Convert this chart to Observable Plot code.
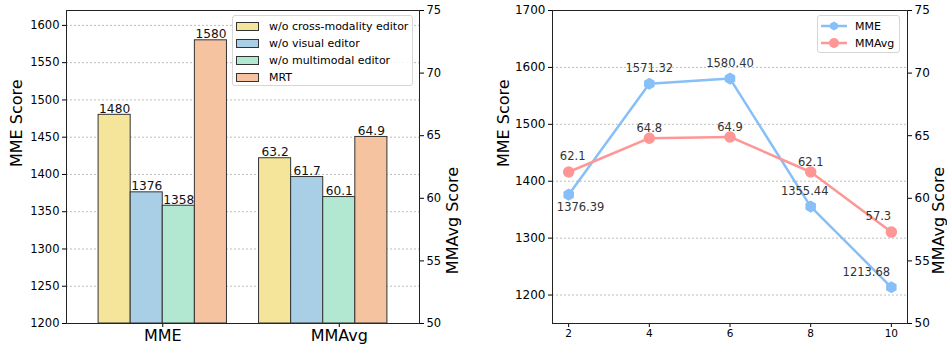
<!DOCTYPE html>
<html><head><meta charset="utf-8">
<script src="https://cdn.jsdelivr.net/npm/d3@7"></script>
<script src="https://cdn.jsdelivr.net/npm/@observablehq/plot@0.6"></script>
<style>
body{margin:0;background:#fff;font-family:"DejaVu Sans",sans-serif;}
#wrap{position:relative;width:947px;height:347px;overflow:hidden;background:#fff;}
.layer{position:absolute;top:0;}
.legend{position:absolute;background:rgba(255,255,255,0.85);border:1px solid #d6d6d6;border-radius:3px;font-size:11px;color:#000;box-sizing:border-box;}
.legend .row{position:absolute;left:0;display:flex;align-items:center;height:17px;white-space:nowrap;}
</style></head><body><div id="wrap"></div>
<script>
// ---- data ----
const series = ["w/o cross-modality editor", "w/o visual editor", "w/o multimodal editor", "MRT"];
const groups = ["MME", "MMAvg"];
const mmeBars = [1480, 1376, 1358, 1580];
const mmavgBars = [63.2, 61.7, 60.1, 64.9];
const steps = [2, 4, 6, 8, 10];
const mmeLine = [1376.39, 1571.32, 1580.40, 1355.44, 1213.68];
const mmavgLine = [62.1, 64.8, 64.9, 62.1, 57.3];
const mmeTicksLeft = [1200, 1250, 1300, 1350, 1400, 1450, 1500, 1550, 1600];
const mmeTicksRight = [1200, 1300, 1400, 1500, 1600, 1700];
const mmavgTicks = [50, 55, 60, 65, 70, 75];
const lineNames = ["MME", "MMAvg"];

// ---- styles ----
const barColors = ["#F5E59B", "#A8CFE6", "#B2E8D1", "#F5C3A0"];
const blue = "#87BFF8", pink = "#FF9696";
const groupTickPos = groups.map((g, i) => i * 1.1);
const mmeLabelOff = [[12, 13], [0, -15], [0, -15], [-6, -15], [-25, -15]];
const mmavgLabelOff = [[4, -16], [0, -10], [0, -10], [0, -10], [-13, -16]];
const font = "DejaVu Sans";
const svgStyle = {fontFamily: font, fontSize: "12px", background: "transparent", color: "#000", overflow: "visible"};
const grid = {stroke: "#b5b5b5", strokeDasharray: "2,2", strokeWidth: 0.9};
const plain = d => String(d);

const wrap = document.getElementById("wrap");
function place(node, left) {
  node.classList.add("layer");
  node.style.left = left + "px";
  wrap.appendChild(node);
}

// ---- left panel ----
const Ldim = {width: 470, height: 347, marginLeft: 66, marginRight: 51, marginTop: 10, marginBottom: 24};
const xL = {type: "linear", domain: [-0.6, 1.6]};
const rows = (vals, g) => vals.map((v, i) => ({i, v, x1: g - 0.4 + i * 0.2, x2: g - 0.2 + i * 0.2}));
const rowsA = rows(mmeBars, 0), rowsB = rows(mmavgBars, 1);

const plotA = Plot.plot({
  ...Ldim, style: svgStyle,
  x: xL, y: {domain: [1200, 1620]}, color: {type: "identity"},
  marks: [
    Plot.ruleY(mmeTicksLeft.slice(1), grid),
    Plot.rectY(rowsA, {x1: "x1", x2: "x2", y1: 1200, y2: "v", fill: d => barColors[d.i], stroke: "#333", strokeWidth: 1, inset: 0}),
    Plot.text(rowsA, {x: d => (d.x1 + d.x2) / 2, y: "v", text: d => String(d.v), lineAnchor: "bottom", dy: -2, fontSize: 12.2, fill: "#111"}),
    Plot.axisY({ticks: mmeTicksLeft, tickFormat: plain, tickSize: 4, tickPadding: 3, fontSize: 11.5, label: null}),
    Plot.axisX({ticks: groupTickPos, tickFormat: d => groups[groupTickPos.indexOf(d)], tickSize: 4, tickPadding: 2, fontSize: 16, label: null}),
    Plot.frame({stroke: "#222"}),
    Plot.text(["MME Score"], {frameAnchor: "left", rotate: -90, dx: -50, fontSize: 16, text: d => d})
  ]
});
place(plotA, 0);

const plotB = Plot.plot({
  ...Ldim, style: svgStyle,
  x: {...xL, axis: null}, y: {domain: [50, 75]}, color: {type: "identity"},
  marks: [
    Plot.rectY(rowsB, {x1: "x1", x2: "x2", y1: 50, y2: "v", fill: d => barColors[d.i], stroke: "#333", strokeWidth: 1, inset: 0}),
    Plot.text(rowsB, {x: d => (d.x1 + d.x2) / 2, y: "v", text: d => d.v.toFixed(1), lineAnchor: "bottom", dy: -2, fontSize: 12.2, fill: "#111"}),
    Plot.axisY({anchor: "right", ticks: mmavgTicks, tickFormat: plain, tickSize: 4, tickPadding: 3, fontSize: 11.5, label: null}),
    Plot.text(["MMAvg Score"], {frameAnchor: "right", rotate: -90, dx: 33, fontSize: 16, text: d => d})
  ]
});
place(plotB, 0);

// left legend
const legL = document.createElement("div");
legL.className = "legend";
Object.assign(legL.style, {left: "232px", top: "15px", width: "181px", height: "71px"});
series.forEach((s, i) => {
  const r = document.createElement("div");
  r.className = "row";
  r.style.top = (1.5 + i * 17) + "px";
  r.innerHTML = `<span style="display:inline-block;width:21px;height:7px;margin-left:3px;margin-right:10px;background:${barColors[i]};border:1px solid #333"></span><span>${s}</span>`;
  legL.appendChild(r);
});
wrap.appendChild(legL);

// ---- right panel ----
const Rdim = {width: 477, height: 347, marginLeft: 82, marginRight: 40, marginTop: 10, marginBottom: 24};
const xR = {type: "linear", domain: [1.6, 10.4]};
const idx = steps.map((s, i) => i);

const plotC = Plot.plot({
  ...Rdim, style: svgStyle,
  x: xR, y: {domain: [1150, 1700]},
  marks: [
    Plot.ruleY(mmeTicksRight.slice(0, 5), grid),
    Plot.line(idx, {x: i => steps[i], y: i => mmeLine[i], stroke: blue, strokeWidth: 2.5}),
    Plot.dot(idx, {x: i => steps[i], y: i => mmeLine[i], symbol: "hexagon", r: 4.5, fill: blue, stroke: blue}),
    ...idx.map(i => Plot.text([i], {x: j => steps[j], y: j => mmeLine[j], text: j => mmeLine[j].toFixed(2), dx: mmeLabelOff[i][0], dy: mmeLabelOff[i][1], fontSize: 11.5, fill: "#333"})),
    Plot.axisY({ticks: mmeTicksRight, tickFormat: plain, tickSize: 4, tickPadding: 3, fontSize: 12, label: null}),
    Plot.axisX({ticks: steps, tickFormat: plain, tickSize: 4, tickPadding: 2, fontSize: 10.5, label: null}),
    Plot.frame({stroke: "#222"}),
    Plot.text(["MME Score"], {frameAnchor: "left", rotate: -90, dx: -49, fontSize: 16, text: d => d})
  ]
});
place(plotC, 470);

const plotD = Plot.plot({
  ...Rdim, style: svgStyle,
  x: {...xR, axis: null}, y: {domain: [50, 75]},
  marks: [
    Plot.line(idx, {x: i => steps[i], y: i => mmavgLine[i], stroke: pink, strokeWidth: 2.5}),
    Plot.dot(idx, {x: i => steps[i], y: i => mmavgLine[i], r: 5, fill: pink, stroke: pink}),
    ...idx.map(i => Plot.text([i], {x: j => steps[j], y: j => mmavgLine[j], text: j => mmavgLine[j].toFixed(1), dx: mmavgLabelOff[i][0], dy: mmavgLabelOff[i][1], fontSize: 11.5, fill: "#333"})),
    Plot.axisY({anchor: "right", ticks: mmavgTicks, tickFormat: plain, tickSize: 4, tickPadding: 3, fontSize: 12, label: null}),
    Plot.text(["MMAvg Score"], {frameAnchor: "right", rotate: -90, dx: 31, fontSize: 16, text: d => d})
  ]
});
place(plotD, 470);

// right legend
const legR = document.createElement("div");
legR.className = "legend";
Object.assign(legR.style, {left: "817px", top: "15px", width: "83px", height: "38px"});
const lineColors = [blue, pink];
lineNames.forEach((s, i) => {
  const r = document.createElement("div");
  r.className = "row";
  r.style.top = (1.5 + i * 17) + "px";
  const marker = i === 0
    ? `<polygon points="${d3.range(6).map(k => { const a = Math.PI / 3 * k - Math.PI / 2; return (13 + 4.5 * Math.cos(a)).toFixed(2) + "," + (8 + 4.5 * Math.sin(a)).toFixed(2); }).join(" ")}" fill="${blue}"/>`
    : `<circle cx="13" cy="8" r="5" fill="${pink}"/>`;
  r.innerHTML = `<svg width="26" height="16" style="margin-left:3px;margin-right:8px"><line x1="0" x2="26" y1="8" y2="8" stroke="${lineColors[i]}" stroke-width="2.5"/>${marker}</svg><span>${s}</span>`;
  legR.appendChild(r);
});
wrap.appendChild(legR);
</script></body></html>
